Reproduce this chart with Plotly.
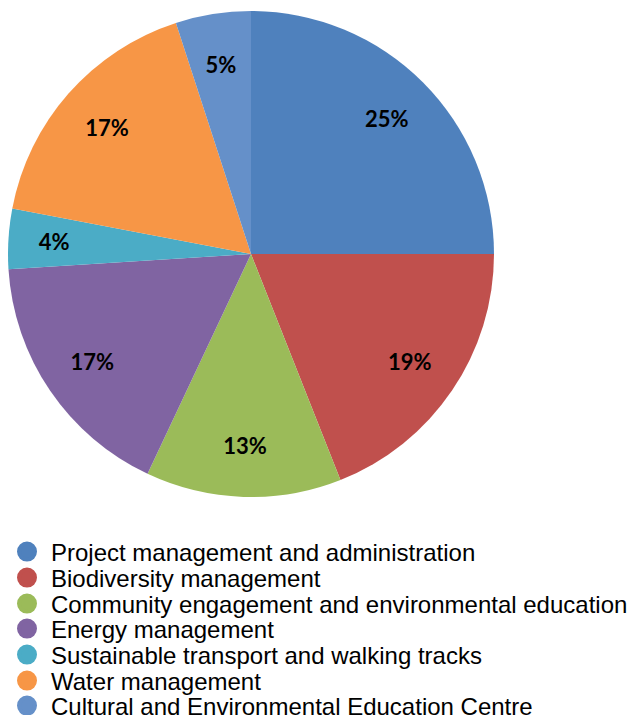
import plotly.graph_objects as go

categories = [
    "Project management and administration",
    "Biodiversity management",
    "Community engagement and environmental education",
    "Energy management",
    "Sustainable transport and walking tracks",
    "Water management",
    "Cultural and Environmental Education Centre",
]
values = [25, 19, 13, 17, 4, 17, 5]
colors = ["#4F81BD", "#C0504D", "#9BBB59", "#8064A2", "#4BACC6", "#F79646", "#6590C9"]
labels_text = [f"{v}%" for v in values]

W, H = 629, 715
cx, cy, r = 251, 254, 243


def domain(rad):
    return dict(x=[(cx - rad) / W, (cx + rad) / W], y=[1 - (cy + rad) / H, 1 - (cy - rad) / H])


fig = go.Figure()
# filled pie
fig.add_trace(go.Pie(
    labels=categories, values=values,
    textinfo="none", sort=False, direction="clockwise", rotation=0,
    marker=dict(colors=colors, line=dict(width=0)),
    showlegend=False, domain=domain(r), hoverinfo="label+percent",
))

# transparent rings carrying the percentage labels (big slices / small slices)
small = [v < 10 for v in values]
for hole, pick, rad in ((0.58, False, r), (0.40, True, 222)):
    txt = [t if s == pick else "" for t, s in zip(labels_text, small)]
    fig.add_trace(go.Pie(
        labels=categories, values=values, text=txt,
        textinfo="text", textposition="inside", insidetextorientation="horizontal",
        hole=hole, sort=False, direction="clockwise", rotation=0,
        marker=dict(colors=["rgba(0,0,0,0)"] * len(values), line=dict(width=0)),
        textfont=dict(family="Lato", size=22, weight="bold", color="black"),
        showlegend=False, domain=domain(rad), hoverinfo="skip",
    ))

row_y = [552, 578, 604, 629, 655, 681, 706]
legend_layouts = {}
for i, (name, c) in enumerate(zip(categories, colors)):
    key = "legend" if i == 0 else f"legend{i + 1}"
    fig.add_trace(go.Scatter(
        x=[None], y=[None], mode="markers", name=name,
        marker=dict(symbol="circle", size=16, color=c, line=dict(width=4, color=c)),
        showlegend=True, legend=key,
    ))
    legend_layouts[key] = dict(
        x=3 / W, y=1 - row_y[i] / H, xanchor="left", yanchor="middle",
        font=dict(family="Liberation Sans", size=24, color="black"),
        itemwidth=38, bgcolor="rgba(0,0,0,0)", borderwidth=0,
    )

fig.update_layout(
    width=W, height=H,
    margin=dict(l=0, r=0, t=0, b=0, autoexpand=False),
    paper_bgcolor="white", plot_bgcolor="white",
    xaxis=dict(visible=False), yaxis=dict(visible=False),
    **legend_layouts,
)

fig.write_html("out.html")
